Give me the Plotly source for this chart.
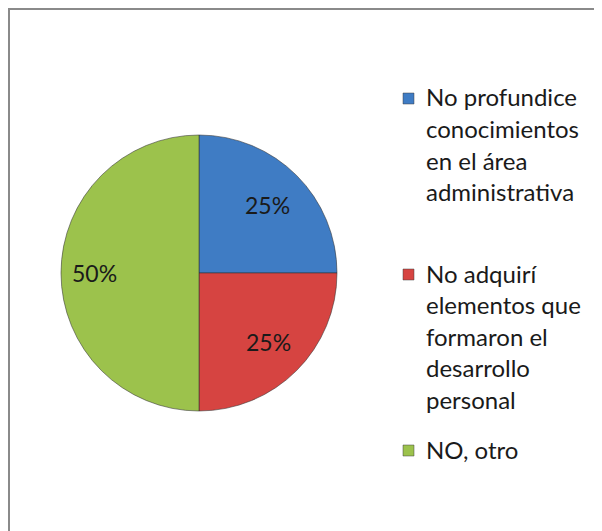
"""Pie chart — razones (No profundice / No adquirí / NO, otro)."""

import math

import plotly.graph_objects as go

labels = [
    "No profundice conocimientos en el área administrativa",
    "No adquirí elementos que formaron el desarrollo personal",
    "NO, otro",
]
legend_lines = [
    ["No profundice", "conocimientos", "en el área", "administrativa"],
    ["No adquirí", "elementos que", "formaron el", "desarrollo", "personal"],
    ["NO, otro"],
]
values = [25, 25, 50]
colors = ["#3f7cc4", "#d64441", "#9cc24c"]

W, H = 602, 531
FONT = "Lato, Carlito, Calibri, sans-serif"
# el navegador deja 8px de margen en el body, todo va desplazado
CX, CY, R = 191, 265, 138
label_r = [0.70, 0.71, 0.76]  # radio relativo de las etiquetas de porcentaje

fig = go.Figure(go.Pie(
    labels=labels,
    values=values,
    sort=False,
    direction="clockwise",
    rotation=0,
    marker=dict(colors=colors, line=dict(color="rgba(50,50,50,0.55)", width=1)),
    textinfo="none",
    domain=dict(x=[(CX - R) / W, (CX + R) / W], y=[1 - (CY + R) / H, 1 - (CY - R) / H]),
    showlegend=False,
    hoverinfo="label+percent",
))

shapes = [dict(
    type="rect", xref="paper", yref="paper",
    x0=1 / W, x1=1.2, y0=-0.2, y1=1 - 1 / H,
    line=dict(color="#8a8a8a", width=2), fillcolor="rgba(0,0,0,0)",
)]
annotations = []

# etiquetas de porcentaje, en el ángulo medio de cada sector (sentido horario desde las 12)
total = sum(values)
acc = 0
for v, f in zip(values, label_r):
    mid = (acc + v / 2) / total * 2 * math.pi
    acc += v
    px = CX + f * R * math.sin(mid)
    py = CY - f * R * math.cos(mid)
    annotations.append(dict(
        text=f"{round(100 * v / total)}%", xref="paper", yref="paper",
        x=px / W, y=1 - py / H, xanchor="center", yanchor="middle",
        showarrow=False, font=dict(family=FONT, size=23, color="#1a1a1a"),
    ))

# leyenda manual (Excel reparte las entradas de forma irregular)
item_top = [89, 265, 441]
line_h = 31.5
for color, lines, top in zip(colors, legend_lines, item_top):
    yc = top + 1.5
    shapes.append(dict(
        type="rect", xref="paper", yref="paper",
        x0=395 / W, x1=406 / W, y0=1 - (yc + 5.5) / H, y1=1 - (yc - 5.5) / H,
        fillcolor=color, line=dict(color="rgba(60,60,60,0.6)", width=0.8),
    ))
    for i, txt in enumerate(lines):
        annotations.append(dict(
            text=txt, xref="paper", yref="paper",
            x=416 / W, y=1 - (top + i * line_h) / H,
            xanchor="left", yanchor="middle", showarrow=False,
            font=dict(family=FONT, size=24, color="#1a1a1a"),
        ))

fig.update_layout(
    width=W, height=H,
    margin=dict(l=0, r=0, t=0, b=0),
    paper_bgcolor="white",
    plot_bgcolor="white",
    shapes=shapes,
    annotations=annotations,
)

fig.write_html("out.html")
